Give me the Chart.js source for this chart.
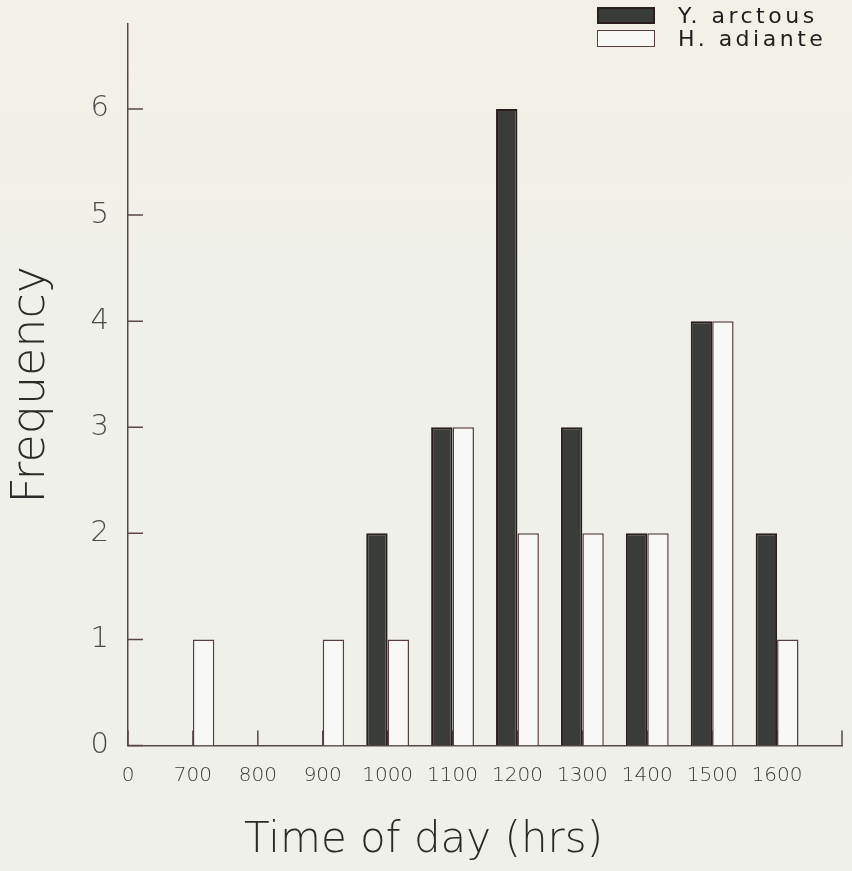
<!DOCTYPE html>
<html>
<head>
<meta charset="utf-8">
<script src="https://cdn.jsdelivr.net/npm/chart.js@4/dist/chart.umd.min.js"></script>
<style>
  body { margin:0; background:#f0f0ea; }
  #wrap { position:relative; width:852px; height:871px; background:linear-gradient(#f3f1e6, #f0f0ea 30%); }
  #legend { position:absolute; left:597px; top:4px; font-family:"DejaVu Sans", sans-serif; font-weight:400;
            font-size:22px; letter-spacing:3.5px; color:#1e1e1e; }
  #legend .item { display:flex; align-items:center; height:23px; }
  #legend .sw { display:inline-block; width:58px; height:17px; box-sizing:border-box; margin-right:23px; }
</style>
</head>
<body>
<div id="wrap">
  <canvas id="chart" width="852" height="871"></canvas>
  <div id="legend"></div>
</div>
<script>
// hour-of-day bins and counts per species
const categories = ['0', '700', '800', '900', '1000', '1100', '1200', '1300', '1400', '1500', '1600'];
const arctous = [null, null, null, null, 2, 3, 6, 3, 2, 4, 2];
const adiante = [null, 1, null, 1, 1, 3, 2, 2, 2, 4, 1];
const yTicks = [0, 1, 2, 3, 4, 5, 6];

const axisColor = '#5a4649';
const fontFam = '"DejaVu Sans", sans-serif';

const series = [
  {label: 'Y. arctous', data: arctous, fill: '#3a3c39', border: '#2a1d1e', width: 2},
  {label: 'H. adiante', data: adiante, fill: '#f8f8f6', border: '#5a3d3f', width: 1.5}
];

function formatLegend(items){
  const wrap = document.getElementById('legend');
  wrap.innerHTML = '';
  items.forEach(s => {
    const d = document.createElement('div');
    d.className = 'item';
    const sw = document.createElement('span');
    sw.className = 'sw';
    sw.style.background = s.fill;
    sw.style.border = s.width + 'px solid ' + s.border;
    d.appendChild(sw);
    const txt = document.createElement('span');
    txt.textContent = s.label;
    d.appendChild(txt);
    wrap.appendChild(d);
  });
}

// short tick marks pointing into the plot, drawn under the bars
const innerTicks = {
  id: 'innerTicks',
  beforeDatasetsDraw(chart){
    const {ctx, scales:{x, y}} = chart;
    ctx.save();
    ctx.strokeStyle = axisColor;
    ctx.lineWidth = 1.5;
    ctx.beginPath();
    y.ticks.forEach(t => {
      const py = y.getPixelForValue(t.value);
      ctx.moveTo(x.left, py);
      ctx.lineTo(x.left + 15, py);
    });
    x.ticks.forEach((t, i) => {
      const px = x.getPixelForTick(i);
      ctx.moveTo(px, y.bottom);
      ctx.lineTo(px, y.bottom - 15);
    });
    ctx.stroke();
    ctx.restore();
  }
};

formatLegend(series);

new Chart(document.getElementById('chart'), {
  type: 'bar',
  data: {
    labels: categories.concat(['']),
    datasets: series.map(s => ({
      label: s.label,
      data: s.data,
      backgroundColor: s.fill,
      borderColor: s.border,
      borderWidth: s.width,
      categoryPercentage: 0.66,
      barPercentage: 1
    }))
  },
  options: {
    responsive: false,
    animation: false,
    layout: {padding: {left: 0, right: 5, top: 24, bottom: 5}},
    plugins: {
      legend: {display: false},
      tooltip: {enabled: false},
      title: {
        display: true,
        position: 'bottom',
        text: 'Time of day (hrs)',
        color: '#2a2a2a',
        padding: 0,
        font: {family: fontFam, size: 42, weight: 200}
      }
    },
    scales: {
      x: {
        offset: false,
        grid: {display: false},
        border: {display: true, color: axisColor, width: 1.5},
        ticks: {color: '#3a3a3a', padding: 10, maxRotation: 0, autoSkip: false,
                font: {family: fontFam, size: 20, weight: 200}},
        afterFit(scale){ scale.height = 70; }
      },
      y: {
        min: 0,
        max: 6.8,
        grid: {display: false},
        border: {display: true, color: axisColor, width: 1.5},
        ticks: {color: '#4a4a4a', padding: 11, stepSize: 1,
                font: {family: fontFam, size: 29, weight: 200}},
        afterBuildTicks(scale){ scale.ticks = yTicks.map(v => ({value: v})); },
        title: {
          display: true,
          text: 'Frequency',
          color: '#2a2a2a',
          padding: {top: 4, bottom: 0},
          font: {family: fontFam, size: 46, weight: 200}
        },
        afterFit(scale){
          scale.width = 128;
          scale.paddingTop = 0;
          scale.paddingBottom = 0;
        }
      }
    }
  },
  plugins: [innerTicks]
});
</script>
</body>
</html>
